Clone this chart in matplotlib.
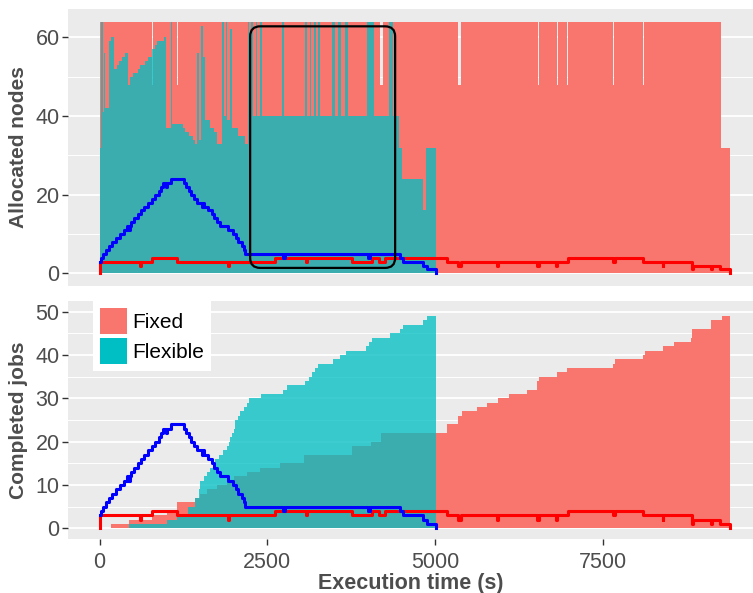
import matplotlib
matplotlib.use("Agg")
import matplotlib.pyplot as plt
from matplotlib.patches import Patch, FancyBboxPatch
from matplotlib.ticker import MultipleLocator

plt.rcParams["font.family"] = ["Liberation Sans", "DejaVu Sans"]

# ==========================================
# DATA (times in seconds, step values hold until the next time)
# ==========================================
# allocated nodes, fixed workload
fixed_nodes_t = [0, 780, 795, 1153, 1168, 4185, 4225, 5350, 5395, 6541, 6556, 6815, 6827,
                 6964, 6976, 7659, 7674, 8106, 8121, 8826, 8838, 9258, 9390]
fixed_nodes_v = [64, 48, 64, 48, 64, 48, 64, 48, 64, 48, 64, 48, 64,
                 48, 64, 48, 64, 48, 64, 48, 64, 32, 32]

# allocated nodes, flexible workload
flex_nodes_t = [0, 20, 45, 60, 75, 144, 174, 209, 258, 293, 333, 373, 418, 457, 492,
                572, 606, 681, 721, 780, 820, 860, 954, 989, 1059, 1080, 1237, 1277, 1327,
                1387, 1426, 1451, 1476, 1516, 1541, 1576, 1650, 1700, 1748, 1823, 1848,
                1880, 1905, 1940, 1980, 2060, 2170, 2206, 2235, 2255, 2285, 2325, 2345,
                2385, 2425, 2717, 2752, 3056, 3090, 3130, 3155, 3200, 3230, 3250, 3280,
                3472, 3512, 3561, 3597, 3661, 3701, 3990, 4094, 4321, 4371, 4466, 4515,
                4818, 4868, 5010]
flex_nodes_v = [32, 64, 41, 56, 42, 59, 60, 52, 53, 54, 55, 56, 48, 50, 51,
                52, 53, 54, 55, 57, 58, 59, 60, 37, 64, 38, 37, 36, 35,
                34, 33, 56, 34, 63, 55, 39, 37, 36, 33, 64, 40,
                64, 39, 62, 37, 35, 33, 64, 40, 64, 40, 64, 40,
                64, 40, 64, 40, 64, 40, 64, 40, 64, 40, 64, 40,
                64, 40, 64, 40, 64, 40, 64, 40, 64, 40, 32, 24,
                16, 32, 32]

# running jobs (step lines, drawn in both panels)
fixed_jobs_t = [0, 0, 600, 615, 780, 1153, 1913, 1928, 2618, 3075, 3090, 3760, 4058, 4168,
                4257, 5175, 5350, 5395, 5930, 5942, 6526, 6556, 6805, 6817, 6988, 7650,
                7680, 8106, 8394, 8406, 8826, 8840, 9114, 9126, 9248, 9390, 9390]
fixed_jobs_v = [0, 3, 2, 3, 4, 3, 2, 3, 4, 3, 4, 3, 4, 3,
                4, 3, 2, 3, 2, 3, 2, 3, 2, 3, 4, 3,
                4, 3, 2, 3, 1, 2, 1, 2, 1, 0, 0]

flex_jobs_t = [0, 25, 50, 90, 140, 180, 240, 300, 360, 410, 435, 455, 470, 520, 570,
               620, 670, 720, 780, 830, 880, 915, 950, 990, 1010, 1063, 1262, 1295, 1330,
               1370, 1410, 1460, 1520, 1535, 1550, 1620, 1670, 1710, 1750, 1790, 1910,
               1995, 2030, 2070, 2120, 2150, 2171, 2742, 2757, 4000, 4030, 4481, 4520,
               4828, 4878, 5010, 5010]
flex_jobs_v = [3, 4, 5, 6, 7, 8, 9, 10, 11, 12, 11, 12, 13, 14, 15,
               16, 17, 18, 19, 20, 21, 22, 23, 22, 23, 24, 23, 22, 21,
               20, 19, 18, 17, 18, 17, 16, 15, 14, 13, 12, 11,
               10, 9, 8, 7, 6, 5, 4, 5, 4, 5, 4, 3,
               2, 1, 0, 0]

# completed jobs (cumulative)
fixed_done_t = [0, 174, 436, 780, 1000, 1153, 1426, 1500, 1600, 1750, 1898, 1997, 2200,
                2395, 2692, 3050, 3760, 4043, 4192, 5186, 5350, 5400, 5623, 5781, 5945,
                6100, 6377, 6526, 6550, 6815, 6973, 7659, 7680, 8106, 8130, 8395, 8563,
                8812, 8835, 9110, 9274, 9390]
fixed_done_v = [0, 1, 2, 3, 4, 6, 7, 8, 9, 10, 11, 12, 13,
                14, 15, 17, 19, 20, 22, 24, 26, 27, 28, 29, 30,
                31, 32, 34, 35, 36, 37, 38, 39, 40, 41, 42, 43,
                44, 46, 48, 49, 49]

flex_done_t = [0, 436, 1004, 1150, 1312, 1426, 1476, 1500, 1550, 1600, 1650, 1690, 1724,
               1780, 1840, 1898, 1923, 1950, 1972, 1997, 2022, 2060, 2100, 2150, 2196,
               2221, 2405, 2742, 2791, 3065, 3129, 3174, 3214, 3263, 3487, 3586, 3675,
               3973, 4023, 4063, 4331, 4480, 4530, 4828, 4877, 5010]
flex_done_v = [0, 1, 2, 3, 5, 7, 9, 11, 12, 13, 14, 15, 16,
               17, 18, 19, 20, 21, 22, 23, 25, 26, 27, 28, 29,
               30, 31, 32, 33, 34, 35, 36, 37, 38, 39, 40, 41,
               42, 43, 44, 45, 46, 47, 48, 49, 49]

legend_labels = ["Fixed", "Flexible"]
x_ticks = [0, 2500, 5000, 7500]

# ==========================================
# STYLE
# ==========================================
RED_FILL = "#F8766D"
TEAL_FILL = "#00BFC4"
TEAL_ALPHA = 0.76
TEXT_GRAY = "#4D4D4D"


def style_panel(ax, minor_step):
    ax.set_facecolor("#EBEBEB")
    for s in ax.spines.values():
        s.set_visible(False)
    ax.set_axisbelow(True)
    ax.yaxis.set_minor_locator(MultipleLocator(minor_step))
    ax.grid(axis="y", which="major", color="white", lw=1.3)
    ax.grid(axis="y", which="minor", color="white", lw=0.7)
    ax.tick_params(which="major", color="#333333", length=4, width=1,
                   labelsize=15.5, labelcolor=TEXT_GRAY, pad=2)
    ax.tick_params(axis="x", pad=5.5)
    ax.tick_params(which="minor", length=0)
    ax.set_xticks(x_ticks)
    ax.set_xlim(-470, 9740)


def draw_lines(ax):
    ax.step(fixed_jobs_t, fixed_jobs_v, where="post", color="#FF0000", lw=2.2, zorder=4)
    ax.step(flex_jobs_t, flex_jobs_v, where="post", color="#0000FF", lw=2.2, zorder=4)


fig = plt.figure(figsize=(7.53, 5.93), dpi=100)
ax1 = fig.add_axes([0.0903, 0.5177, 0.9097, 0.4671])
ax2 = fig.add_axes([0.0903, 0.0911, 0.9097, 0.4013])

# --- top panel: allocated nodes ---
style_panel(ax1, 10)
ax1.fill_between(fixed_nodes_t, fixed_nodes_v, step="post", color=RED_FILL, lw=0, zorder=2)
ax1.fill_between(flex_nodes_t, flex_nodes_v, step="post", color=TEAL_FILL,
                 alpha=TEAL_ALPHA, lw=0, zorder=3)
draw_lines(ax1)
ax1.set_ylim(-3.2, 67.2)
ax1.set_yticks([0, 20, 40, 60])
ax1.tick_params(axis="x", length=0, labelbottom=False)
ax1.set_ylabel("Allocated nodes", fontsize=15, fontweight="bold", color=TEXT_GRAY)
ax1.yaxis.set_label_coords(-0.058, 0.5)

# highlighted region
box = FancyBboxPatch((2245, 1.4), 4406 - 2245, 62.8 - 1.4,
                     boxstyle="round,pad=0,rounding_size=150", mutation_aspect=0.01706,
                     fill=False, ec="black", lw=1.6, zorder=5)
ax1.add_patch(box)

# --- bottom panel: completed jobs ---
style_panel(ax2, 5)
ax2.fill_between(fixed_done_t, fixed_done_v, step="post", color=RED_FILL, lw=0, zorder=2)
ax2.fill_between(flex_done_t, flex_done_v, step="post", color=TEAL_FILL,
                 alpha=TEAL_ALPHA, lw=0, zorder=3)
draw_lines(ax2)
ax2.set_ylim(-2.5, 52.5)
ax2.set_yticks([0, 10, 20, 30, 40, 50])
ax2.set_ylabel("Completed jobs", fontsize=15, fontweight="bold", color=TEXT_GRAY)
ax2.yaxis.set_label_coords(-0.058, 0.5)
ax2.set_xlabel("Execution time (s)", fontsize=15.5, fontweight="bold", color=TEXT_GRAY,
               labelpad=0)

handles = [Patch(facecolor=RED_FILL, edgecolor="none"),
           Patch(facecolor=TEAL_FILL, edgecolor="none")]
leg = ax2.legend(handles, legend_labels, loc="upper left", bbox_to_anchor=(0.036, 1.0),
                 borderaxespad=0, fontsize=15, frameon=True, fancybox=False,
                 handlelength=1.3, handleheight=1.55, handletextpad=0.25,
                 labelspacing=0.18, borderpad=0.33)
leg.get_frame().set_edgecolor("none")
leg.get_frame().set_facecolor("white")
leg.get_frame().set_alpha(1)
leg.set_zorder(6)

fig.savefig("out.png", dpi=100)
